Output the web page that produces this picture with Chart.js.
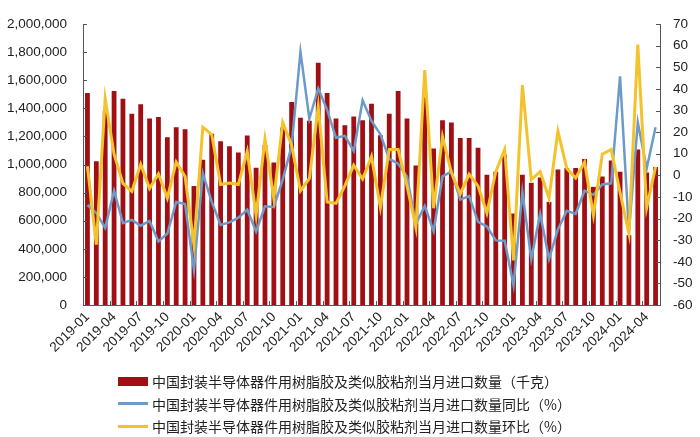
<!DOCTYPE html>
<html>
<head>
<meta charset="utf-8">
<script src="https://cdn.jsdelivr.net/npm/chart.js@4.4.1/dist/chart.umd.min.js"></script>
<style>
  html, body { margin: 0; padding: 0; background: #fff; }
  #wrap { position: relative; width: 700px; height: 437px; }
  #legend { position: absolute; left: 118px; top: 370px; font-family: "Noto Sans CJK SC", sans-serif; font-size: 14px; color: #222; }
  .row { display: flex; align-items: center; height: 22.5px; white-space: nowrap; }
  .sw { width: 30px; margin-right: 4px; }
</style>
</head>
<body>
<div id="wrap">
  <canvas id="chart" width="700" height="437"></canvas>
  <div id="legend"></div>
</div>
<script>
const months = [
  '2019-01','2019-02','2019-03','2019-04','2019-05','2019-06','2019-07','2019-08','2019-09','2019-10','2019-11','2019-12',
  '2020-01','2020-02','2020-03','2020-04','2020-05','2020-06','2020-07','2020-08','2020-09','2020-10','2020-11','2020-12',
  '2021-01','2021-02','2021-03','2021-04','2021-05','2021-06','2021-07','2021-08','2021-09','2021-10','2021-11','2021-12',
  '2022-01','2022-02','2022-03','2022-04','2022-05','2022-06','2022-07','2022-08','2022-09','2022-10','2022-11','2022-12',
  '2023-01','2023-02','2023-03','2023-04','2023-05','2023-06','2023-07','2023-08','2023-09','2023-10','2023-11','2023-12',
  '2024-01','2024-02','2024-03','2024-04','2024-05'
];

// monthly import quantity (kg)
const importQty = [
  1510000, 1024000, 1387000, 1523000, 1469000, 1361000, 1429000, 1327000, 1338000, 1195000, 1266000, 1252000,
  847000, 1035000, 1220000, 1166000, 1131000, 1086000, 1207000, 977000, 1140000, 1015000, 1264000, 1446000,
  1333000, 1311000, 1724000, 1510000, 1327000, 1279000, 1342000, 1315000, 1433000, 1209000, 1361000, 1523000,
  1327000, 994000, 1480000, 1114000, 1315000, 1300000, 1189000, 1189000, 1119000, 927000, 949000, 1070000,
  651000, 927000, 870000, 908000, 734000, 965000, 976000, 976000, 1039000, 841000, 915000, 1028000,
  949000, 497000, 1107000, 944000, 983000
];

// year-on-year change (%)
const yoyPct = [
  -13.7, -17.4, -24.3, -7.1, -22.1, -20.6, -23.3, -21.1, -30.6, -26.9, -12.3, -13.3,
  -43.8, 0.9, -12.3, -23.0, -21.8, -19.6, -15.9, -26.0, -14.3, -14.6, -2.0, 13.5,
  57.2, 26.2, 40.2, 30.3, 17.4, 18.3, 11.3, 34.7, 25.2, 19.0, 7.6, 5.4,
  -0.5, -22.5, -14.2, -25.9, -0.5, 1.7, -11.2, -9.6, -21.5, -23.7, -30.1, -30.3,
  -50.9, -7.6, -38.7, -17.8, -38.7, -25.0, -16.4, -17.8, -7.1, -9.0, -4.2, -3.7,
  45.8, -26.2, 24.5, 3.2, 22.3
];

// month-on-month change (%)
const momPct = [
  4.2, -32.1, 35.5, 9.8, -3.7, -7.4, 5.1, -6.1, 0.7, -10.5, 6.1, -0.5,
  -32.1, 22.3, 18.9, -4.2, -3.5, -4.2, 11.0, -18.4, 16.8, -10.8, 24.5, 14.0,
  -7.1, -1.4, 31.8, -12.3, -13.0, -4.9, 4.7, -1.7, 8.7, -14.9, 12.0, 12.0,
  -4.9, -24.0, 48.7, -15.2, 17.9, 1.3, -8.6, 0.5, -4.9, -17.4, 1.7, 12.0,
  -39.4, 41.8, -2.0, 1.7, -10.5, 20.4, 3.2, -1.2, 6.1, -18.4, 9.8, 12.0,
  -7.9, -27.0, 60.5, -14.9, 3.9
];

const seriesNames = [
  '中国封装半导体器件用树脂胶及类似胶粘剂当月进口数量（千克）',
  '中国封装半导体器件用树脂胶及类似胶粘剂当月进口数量同比（%）',
  '中国封装半导体器件用树脂胶及类似胶粘剂当月进口数量环比（%）'
];

const RED = '#A00F14';
const BLUE = '#6C9BC9';
const YELLOW = '#F4C22B';
const AXIS = '#555';
const TXT = '#222';

// small tick marks pointing into the plot, like the original
const innerTicks = {
  id: 'innerTicks',
  afterDatasetsDraw(chart) {
    const { ctx, chartArea: a, scales } = chart;
    ctx.save();
    ctx.strokeStyle = AXIS;
    ctx.lineWidth = 1;
    ctx.beginPath();
    scales.y.ticks.forEach((t, i) => {
      const py = Math.round(scales.y.getPixelForTick(i)) + 0.5;
      ctx.moveTo(a.left, py);
      ctx.lineTo(a.left + 4, py);
    });
    scales.y1.ticks.forEach((t, i) => {
      const py = Math.round(scales.y1.getPixelForTick(i)) + 0.5;
      ctx.moveTo(a.right, py);
      ctx.lineTo(a.right - 4, py);
    });
    for (let i = 3; i < months.length; i += 3) {
      const px = Math.round((scales.x.getPixelForValue(i - 1) + scales.x.getPixelForValue(i)) / 2) + 0.5;
      ctx.moveTo(px, a.bottom);
      ctx.lineTo(px, a.bottom - 4);
    }
    ctx.stroke();
    ctx.restore();
  }
};

const tickFont = { family: "'Liberation Sans', Arial, sans-serif", size: 13.5 };

const chart = new Chart(document.getElementById('chart'), {
  data: {
    labels: months,
    datasets: [
      {
        type: 'bar',
        label: seriesNames[0],
        data: importQty,
        backgroundColor: RED,
        yAxisID: 'y',
        barPercentage: 0.54,
        categoryPercentage: 1,
        order: 3
      },
      {
        type: 'line',
        label: seriesNames[1],
        data: yoyPct,
        borderColor: BLUE,
        borderWidth: 2.5,
        pointRadius: 0,
        tension: 0,
        yAxisID: 'y1',
        order: 2
      },
      {
        type: 'line',
        label: seriesNames[2],
        data: momPct,
        borderColor: YELLOW,
        borderWidth: 3,
        pointRadius: 0,
        tension: 0,
        yAxisID: 'y1',
        order: 1
      }
    ]
  },
  options: {
    responsive: false,
    animation: false,
    layout: { padding: { top: 10, left: 0, right: 0, bottom: 72 } },
    plugins: {
      legend: { display: false },
      tooltip: { enabled: false }
    },
    scales: {
      x: {
        grid: { display: false, drawTicks: false },
        border: { display: true, color: AXIS, width: 1 },
        ticks: {
          autoSkip: false,
          maxRotation: 45,
          minRotation: 45,
          padding: 4,
          color: TXT,
          font: tickFont,
          callback: (v, i) => (i % 3 === 0 ? months[i] : '')
        },
        afterFit: (s) => { s.height = 60; }
      },
      y: {
        position: 'left',
        min: 0,
        max: 2000000,
        grid: { display: false, drawTicks: false },
        border: { display: true, color: AXIS, width: 1 },
        ticks: {
          stepSize: 200000,
          padding: 16,
          color: TXT,
          font: tickFont,
          callback: (v) => v.toLocaleString('en-US')
        },
        afterFit: (s) => { s.width = 83; }
      },
      y1: {
        position: 'right',
        min: -60,
        max: 70,
        grid: { display: false, drawTicks: false },
        border: { display: true, color: AXIS, width: 1 },
        ticks: {
          stepSize: 10,
          padding: 13,
          color: TXT,
          font: tickFont
        },
        afterFit: (s) => { s.width = 40; }
      }
    }
  },
  plugins: [innerTicks]
});

// legend rows built from the chart's datasets
const legend = document.getElementById('legend');
chart.data.datasets.forEach((ds) => {
  const row = document.createElement('div');
  row.className = 'row';
  const sw = document.createElement('span');
  sw.className = 'sw';
  if (ds.type === 'bar') {
    sw.style.height = '9px';
    sw.style.background = ds.backgroundColor;
  } else {
    sw.style.height = '3px';
    sw.style.background = ds.borderColor;
  }
  const txt = document.createElement('span');
  txt.textContent = ds.label;
  row.appendChild(sw);
  row.appendChild(txt);
  legend.appendChild(row);
});
</script>
</body>
</html>
